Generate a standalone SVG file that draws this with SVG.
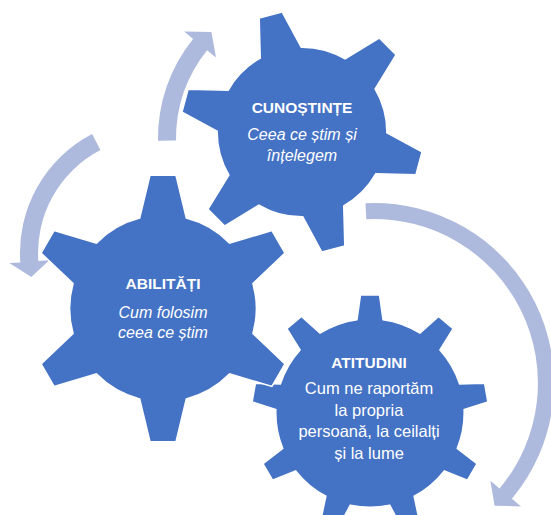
<svg xmlns="http://www.w3.org/2000/svg" width="551" height="515" viewBox="0 0 551 515">
<style>
.gear{fill:#4472C4;stroke:#FFFFFF;stroke-width:1.5;stroke-linejoin:miter}
.arrow{fill:#AEBADD}
text{font-family:"Liberation Sans",Arial,sans-serif;fill:#FFFFFF;text-anchor:middle}
.title{font-weight:bold;font-size:15.5px}
.it{font-style:italic;font-size:16px}
.reg{font-size:16.5px}
</style>
<defs>
<path id="gear6" d="M -23.3,-90.4 L -13,-133.3 L 13,-133.3 L 23.3,-90.4 A 93.3 93.3 0 0 1 66.64,-65.38 L 108.94,-77.91 L 121.94,-55.39 L 89.94,-25.02 A 93.3 93.3 0 0 1 89.94,25.02 L 121.94,55.39 L 108.94,77.91 L 66.64,65.38 A 93.3 93.3 0 0 1 23.3,90.4 L 13,133.3 L -13,133.3 L -23.3,90.4 A 93.3 93.3 0 0 1 -66.64,65.38 L -108.94,77.91 L -121.94,55.39 L -89.94,25.02 A 93.3 93.3 0 0 1 -89.94,-25.02 L -121.94,-55.39 L -108.94,-77.91 L -66.64,-65.38 A 93.3 93.3 0 0 1 -23.3,-90.4 Z"/>
<path id="gear9" d="M -13,-93.3 L -9.5,-118 L 9.5,-118 L 13,-93.3 A 94.2 94.2 0 0 1 50.01,-79.83 L 68.57,-96.49 L 83.13,-84.28 L 69.93,-63.11 A 94.2 94.2 0 0 1 89.63,-29.00 L 114.56,-29.84 L 117.86,-11.13 L 94.14,-3.40 A 94.2 94.2 0 0 1 87.30,35.39 L 106.94,50.77 L 97.44,67.23 L 74.30,57.91 A 94.2 94.2 0 0 1 44.13,83.23 L 49.28,107.63 L 31.43,114.13 L 19.69,92.12 A 94.2 94.2 0 0 1 -19.69,92.12 L -31.43,114.13 L -49.28,107.63 L -44.13,83.23 A 94.2 94.2 0 0 1 -74.30,57.91 L -97.44,67.23 L -106.94,50.77 L -87.30,35.39 A 94.2 94.2 0 0 1 -94.14,-3.40 L -117.86,-11.13 L -114.56,-29.84 L -89.63,-29.00 A 94.2 94.2 0 0 1 -69.93,-63.11 L -83.13,-84.28 L -68.57,-96.49 L -50.01,-79.83 A 94.2 94.2 0 0 1 -13,-93.3 Z"/>
</defs>
<g id="connectors">
<path class="arrow" d="M 365.5,203.2 A 180 180 0 0 1 511.9,498.7 L 521.1,506.4 L 494.6,505.7 L 490.4,480.7 L 499.6,488.4 A 164 164 0 0 0 366.3,219.2 Z"/>
<path class="arrow" d="M 158.0,140.7 A 157.5 157.5 0 0 1 193.1,38.9 L 184.2,31.6 L 211.4,32.1 L 216.0,57.4 L 207.1,50.2 A 139.5 139.5 0 0 0 176.0,140.4 Z"/>
<path class="arrow" d="M 92.1,134.1 A 134 134 0 0 0 20.3,262.4 L 9.3,263.1 L 31.3,276.9 L 49.3,260.3 L 38.3,261.1 A 116 116 0 0 1 100.4,150.1 Z"/>
</g>
<g id="atitudini">
<use href="#gear9" class="gear" transform="translate(370,413)"/>
<text class="title" x="369" y="367.5">ATITUDINI</text>
<text class="reg" x="369" y="394">Cum ne raportăm</text>
<text class="reg" x="369" y="415.5">la propria</text>
<text class="reg" x="369" y="437">persoană, la ceilalți</text>
<text class="reg" x="369" y="458.5">și la lume</text>
</g>
<g id="abilitati">
<use href="#gear6" class="gear" transform="translate(163,308.5)"/>
<text class="title" x="163" y="289">ABILITĂȚI</text>
<text class="it" x="163" y="318">Cum folosim</text>
<text class="it" x="163" y="338">ceea ce știm</text>
</g>
<g id="cunostinte">
<use href="#gear6" class="gear" transform="translate(302,132) rotate(-15) scale(0.908)"/>
<text class="title" x="302" y="113">CUNOȘTINȚE</text>
<text class="it" x="302" y="140">Ceea ce știm și</text>
<text class="it" x="302" y="160.5">înțelegem</text>
</g>
</svg>
